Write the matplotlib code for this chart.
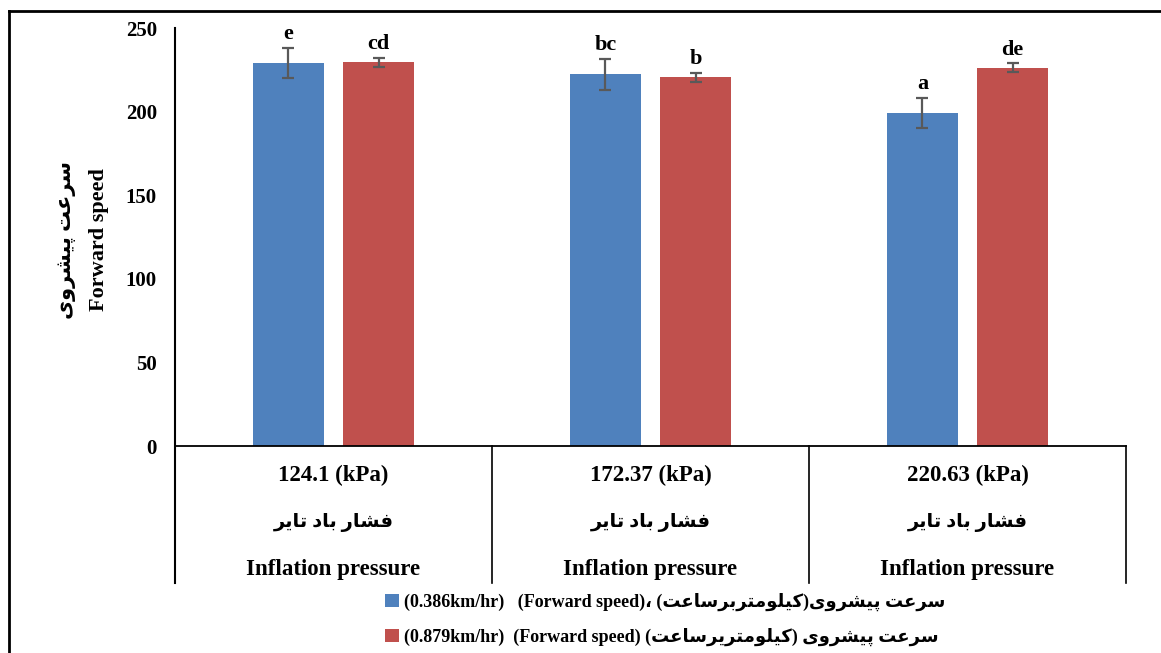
import numpy as np
import matplotlib
matplotlib.use("Agg")
import matplotlib.pyplot as plt
from matplotlib.lines import Line2D
from matplotlib.font_manager import FontProperties

# داده‌ها
pressures = ["124.1 (kPa)", "172.37 (kPa)", "220.63 (kPa)"]
speed_low = [229.3, 222.3, 199.3]      # 0.386 km/hr
speed_low_err = [9.0, 9.3, 9.0]
speed_high = [229.5, 220.5, 226.3]     # 0.879 km/hr
speed_high_err = [2.8, 2.7, 2.7]
letters_low = ["e", "bc", "a"]
letters_high = ["cd", "b", "de"]

BLUE = "#4F81BD"
RED = "#C0504D"
FAM = ["Liberation Serif", "DejaVu Sans"]

# اشکال حروف فارسی (منفرد، پایانی، آغازی، میانی)
FORMS = {
    "ا": (0xFE8D, 0xFE8E, None, None),
    "ب": (0xFE8F, 0xFE90, 0xFE91, 0xFE92),
    "ت": (0xFE95, 0xFE96, 0xFE97, 0xFE98),
    "د": (0xFEA9, 0xFEAA, None, None),
    "ر": (0xFEAD, 0xFEAE, None, None),
    "س": (0xFEB1, 0xFEB2, 0xFEB3, 0xFEB4),
    "ش": (0xFEB5, 0xFEB6, 0xFEB7, 0xFEB8),
    "ع": (0xFEC9, 0xFECA, 0xFECB, 0xFECC),
    "ف": (0xFED1, 0xFED2, 0xFED3, 0xFED4),
    "ل": (0xFEDD, 0xFEDE, 0xFEDF, 0xFEE0),
    "م": (0xFEE1, 0xFEE2, 0xFEE3, 0xFEE4),
    "و": (0xFEED, 0xFEEE, None, None),
    "پ": (0xFB56, 0xFB57, 0xFB58, 0xFB59),
    "ی": (0xFBFC, 0xFBFD, 0xFBFE, 0xFBFF),
    "ک": (0xFB8E, 0xFB8F, 0xFB90, 0xFB91),
}


def rtl(text):
    # matplotlib حروف عربی را به هم نمی‌چسباند، پس اینجا شکل دهی و وارونه سازی می‌کنیم
    out = []
    for i, ch in enumerate(text):
        if ch not in FORMS:
            out.append(ch)
            continue
        iso, fin, ini, med = FORMS[ch]
        prev = text[i - 1] if i > 0 else ""
        nxt = text[i + 1] if i + 1 < len(text) else ""
        jp = prev in FORMS and FORMS[prev][2] is not None
        jn = ini is not None and nxt in FORMS
        if jp and jn:
            g = med
        elif jp:
            g = fin
        elif jn:
            g = ini
        else:
            g = iso
        out.append(chr(g))
    return "".join(out)[::-1]


fa_speed = rtl("سرعت پیشروی")
fa_pressure = rtl("فشار باد تایر")
label_low = "(0.386km/hr)   (Forward speed)\u060C (" + rtl("کیلومتربرساعت") + ")" + fa_speed
label_high = "(0.879km/hr)  (Forward speed) (" + rtl("کیلومتریرساعت") + ") " + fa_speed

fig = plt.figure(figsize=(11.61, 6.53), dpi=100)
ax = fig.add_axes([175 / 1161, 207 / 653, 951 / 1161, 418 / 653])

x = np.arange(len(pressures))
w = 0.222
off = 0.142
ekw = dict(ecolor="#595959", elinewidth=1.6, capsize=4.5, capthick=1.6)
b1 = ax.bar(x - off, speed_low, w, color=BLUE, yerr=speed_low_err,
            error_kw=ekw, label=label_low)
b2 = ax.bar(x + off, speed_high, w, color=RED, yerr=speed_high_err,
            error_kw=ekw, label=label_high)

# حروف معنی داری بالای خطای هر ستون
for xs, vals, errs, labs in [(x - off, speed_low, speed_low_err, letters_low),
                             (x + off, speed_high, speed_high_err, letters_high)]:
    for xi, v, e, t in zip(xs, vals, errs, labs):
        ax.annotate(t, (xi, v + e), xytext=(0, 2.5), textcoords="offset points",
                    ha="center", va="bottom", fontsize=16, fontweight="bold",
                    family=FAM)

ax.set_xlim(-0.5, 2.5)
ax.set_ylim(0, 250)
ax.set_yticks(np.arange(0, 251, 50))
ax.tick_params(axis="y", length=0, pad=13)
ax.set_xticks([])
for t in ax.get_yticklabels():
    t.set_fontsize(15)
    t.set_fontweight("bold")
    t.set_family(FAM)

for s in ["top", "right"]:
    ax.spines[s].set_visible(False)
ax.spines["left"].set_visible(False)
ax.spines["bottom"].set_linewidth(1.3)

# محور افقی چند سطحی
ybot = -137 / 418
ax.add_line(Line2D([0, 0], [1, ybot], transform=ax.transAxes, color="black",
                   lw=1.5, clip_on=False))
for fx in [1 / 3, 2 / 3, 1]:
    ax.add_line(Line2D([fx, fx], [0, ybot], transform=ax.transAxes,
                       color="black", lw=1.2, clip_on=False))

tr = ax.get_xaxis_transform()
for xi, p in zip(x, pressures):
    ax.text(xi, -29 / 418, p, transform=tr, ha="center", va="center",
            fontsize=16.5, fontweight="bold", family=FAM)
    ax.text(xi, -76 / 418, fa_pressure, transform=tr, ha="center",
            va="center", fontsize=14, fontweight="bold", family=FAM)
    ax.text(xi, -124 / 418, "Inflation pressure", transform=tr, ha="center",
            va="center", fontsize=16.5, fontweight="bold", family=FAM)

# عنوان محور عمودی در دو سطر
fig.text(66 / 1161, 1 - 240 / 653, fa_speed, rotation=90,
         ha="center", va="center", fontsize=15, fontweight="bold", family=FAM)
fig.text(99 / 1161, 1 - 240 / 653, "Forward speed", rotation=90,
         ha="center", va="center", fontsize=16, fontweight="bold", family=FAM)

fig.legend(handles=[b1, b2], loc="upper left",
           bbox_to_anchor=(376 / 1161, 1 - 584 / 653), frameon=False,
           handlelength=0.75, handleheight=0.75, handletextpad=0.3,
           labelspacing=0.9, borderpad=0,
           prop=FontProperties(family=FAM, weight="bold", size=13))

# قاب دور شکل
fig.add_artist(Line2D([8.5 / 1161, 8.5 / 1161], [0, 1 - 11 / 653],
                      transform=fig.transFigure, color="black", lw=2))
fig.add_artist(Line2D([8.5 / 1161, 1], [1 - 11 / 653, 1 - 11 / 653],
                      transform=fig.transFigure, color="black", lw=2))

fig.savefig("out.png", dpi=100)
